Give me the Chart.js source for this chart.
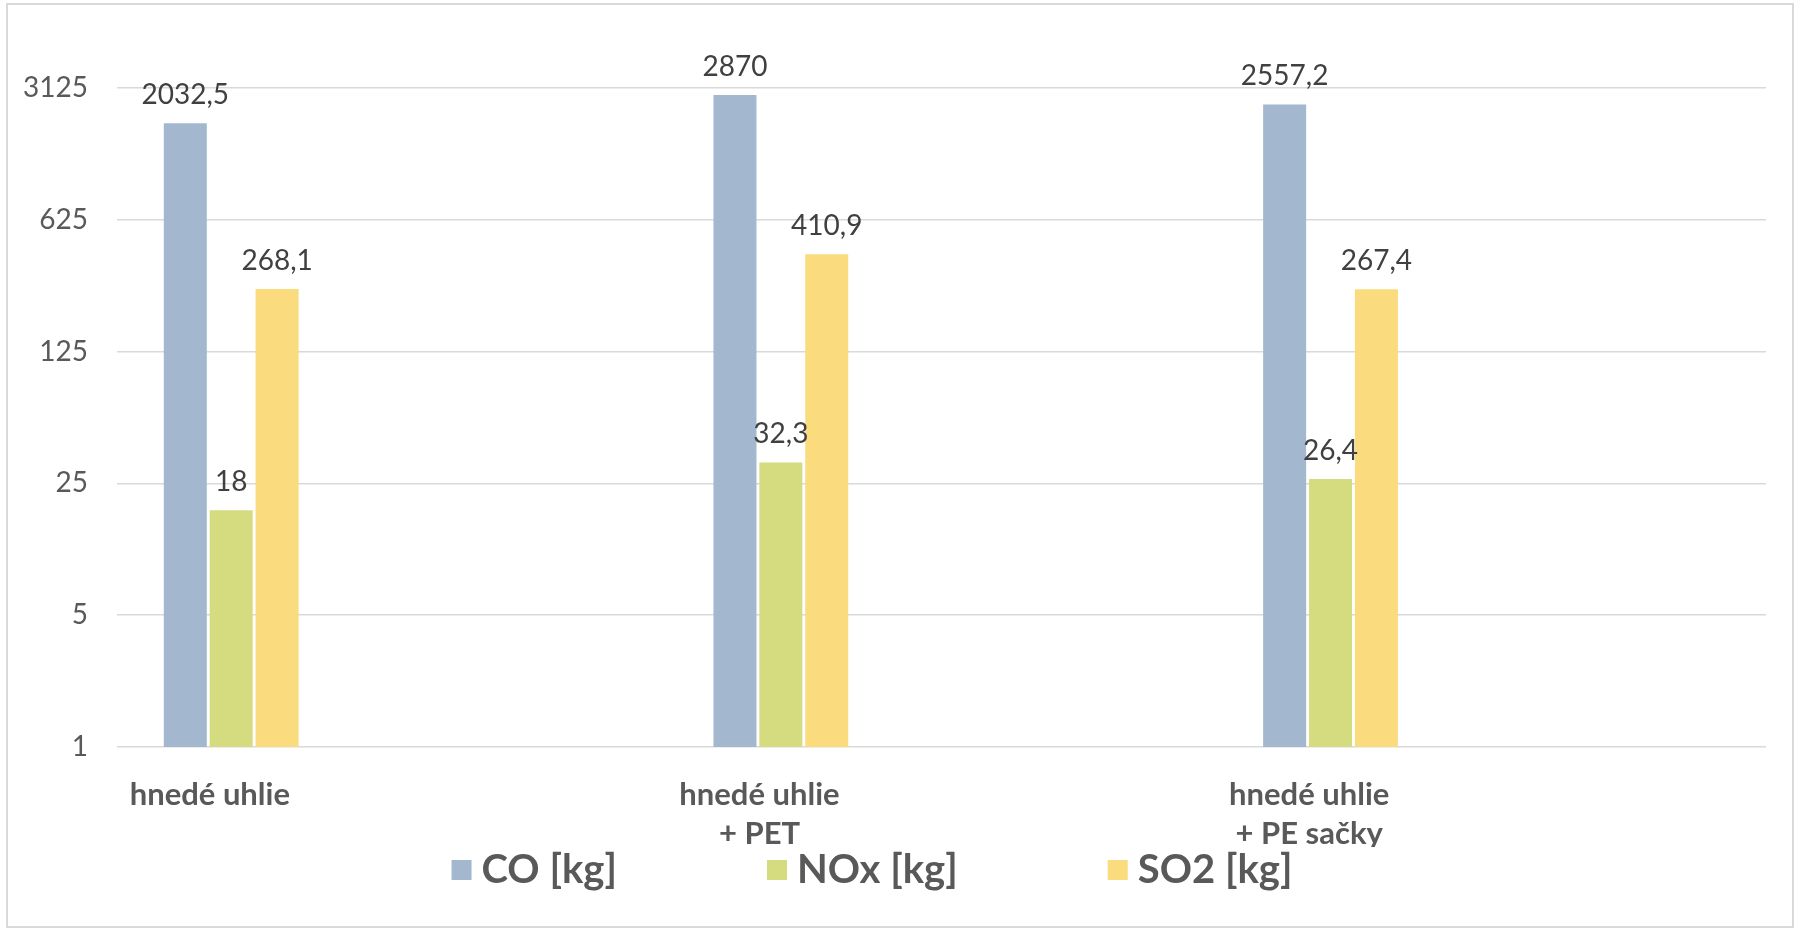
<!DOCTYPE html>
<html>
<head>
<meta charset="utf-8">
<script src="https://cdn.jsdelivr.net/npm/chart.js@4.4.1/dist/chart.umd.min.js"></script>
<style>
  html, body { margin: 0; padding: 0; background: #ffffff; }
  #wrap { position: relative; width: 1797px; height: 929px; overflow: hidden; }
  #c { position: absolute; left: 0; top: 0; }
  #frame {
    position: absolute; left: 6px; top: 3px; width: 1788px; height: 925px;
    border: 2px solid #d9d9d9; box-sizing: border-box; pointer-events: none;
  }
</style>
</head>
<body>
<div id="wrap">
  <canvas id="c" width="1797" height="929"></canvas>
  <div id="frame"></div>
</div>
<script>
// Fuel mixes on the category axis (multi-line labels)
const categories = [
  ['hnedé uhlie'],
  ['hnedé uhlie', '+ PET'],
  ['hnedé uhlie', '+ PE sačky']
];

// Emission series
const seriesNames = ['CO [kg]', 'NOx [kg]', 'SO2 [kg]'];
const coValues = [2032.5, 2870, 2557.2];
const noxValues = [18, 32.3, 26.4];
const so2Values = [268.1, 410.9, 267.4];

// Logarithmic (base 5) value-axis ticks
const yTickValues = [1, 5, 25, 125, 625, 3125];

const seriesColors = ['#a3b8cf', '#d5dc80', '#fadb7e'];

// Empty slots that keep each cluster in the left part of its category
const spacerCount = 7;

const formatValue = v => String(v).replace('.', ',');

const realDatasets = [coValues, noxValues, so2Values].map((vals, i) => ({
  label: seriesNames[i],
  data: vals,
  backgroundColor: seriesColors[i],
  borderWidth: 0
}));
const spacerDatasets = Array.from({ length: spacerCount }, () => ({
  label: '',
  data: categories.map(() => null),
  backgroundColor: 'rgba(0,0,0,0)'
}));

// Value labels above each bar
const valueLabels = {
  id: 'valueLabels',
  afterDatasetsDraw(chart) {
    const ctx = chart.ctx;
    ctx.save();
    ctx.font = '28px Lato';
    ctx.fillStyle = '#404040';
    ctx.textAlign = 'center';
    ctx.textBaseline = 'alphabetic';
    seriesNames.forEach((_, di) => {
      const meta = chart.getDatasetMeta(di);
      meta.data.forEach((bar, i) => {
        const v = chart.data.datasets[di].data[i];
        ctx.fillText(formatValue(v), bar.x, bar.y - 19);
      });
    });
    ctx.restore();
  }
};

// Legend row under the category labels
const bottomLegend = {
  id: 'bottomLegend',
  afterDraw(chart) {
    const ctx = chart.ctx;
    const box = 20, textGap = 10, itemGap = 150;
    const centerX = 872;
    const baseY = chart.chartArea.bottom + 136;
    ctx.save();
    ctx.font = 'bold 40px Lato';
    ctx.textBaseline = 'alphabetic';
    ctx.textAlign = 'left';
    const widths = seriesNames.map(n => box + textGap + ctx.measureText(n).width);
    const total = widths.reduce((a, b) => a + b, 0) + itemGap * (seriesNames.length - 1);
    let x = centerX - total / 2;
    seriesNames.forEach((name, i) => {
      ctx.fillStyle = seriesColors[i];
      ctx.fillRect(x, baseY - 23, box, box);
      ctx.fillStyle = '#595959';
      ctx.fillText(name, x + box + textGap, baseY);
      x += widths[i] + itemGap;
    });
    ctx.restore();
  }
};

new Chart(document.getElementById('c'), {
  type: 'bar',
  data: {
    labels: categories,
    datasets: realDatasets.concat(spacerDatasets)
  },
  options: {
    responsive: false,
    animation: false,
    devicePixelRatio: 1,
    layout: { padding: { left: 0, top: 88, right: 31, bottom: 82 } },
    datasets: {
      bar: { barPercentage: 0.937, categoryPercentage: 0.835 }
    },
    plugins: {
      legend: { display: false },
      tooltip: { enabled: false },
      title: { display: false }
    },
    scales: {
      x: {
        type: 'category',
        offset: true,
        grid: { display: false },
        border: { display: false },
        ticks: {
          font: { family: 'Lato', size: 31, weight: 'bold', lineHeight: 1.26 },
          color: '#595959',
          padding: 20,
          labelOffset: -182,
          maxRotation: 0,
          autoSkip: false
        },
        afterFit(scale) { scale.height = 100; }
      },
      y: {
        type: 'logarithmic',
        min: 1,
        max: 3125,
        afterBuildTicks(scale) {
          scale.ticks = yTickValues.map(v => ({ value: v }));
        },
        grid: { color: '#d9d9d9', lineWidth: 1.5, drawTicks: false },
        border: { display: false },
        ticks: {
          font: { family: 'Lato', size: 28 },
          color: '#595959',
          padding: 29,
          callback: v => String(v)
        },
        afterFit(scale) { scale.width = 117; }
      }
    }
  },
  plugins: [valueLabels, bottomLegend]
});
</script>
</body>
</html>
